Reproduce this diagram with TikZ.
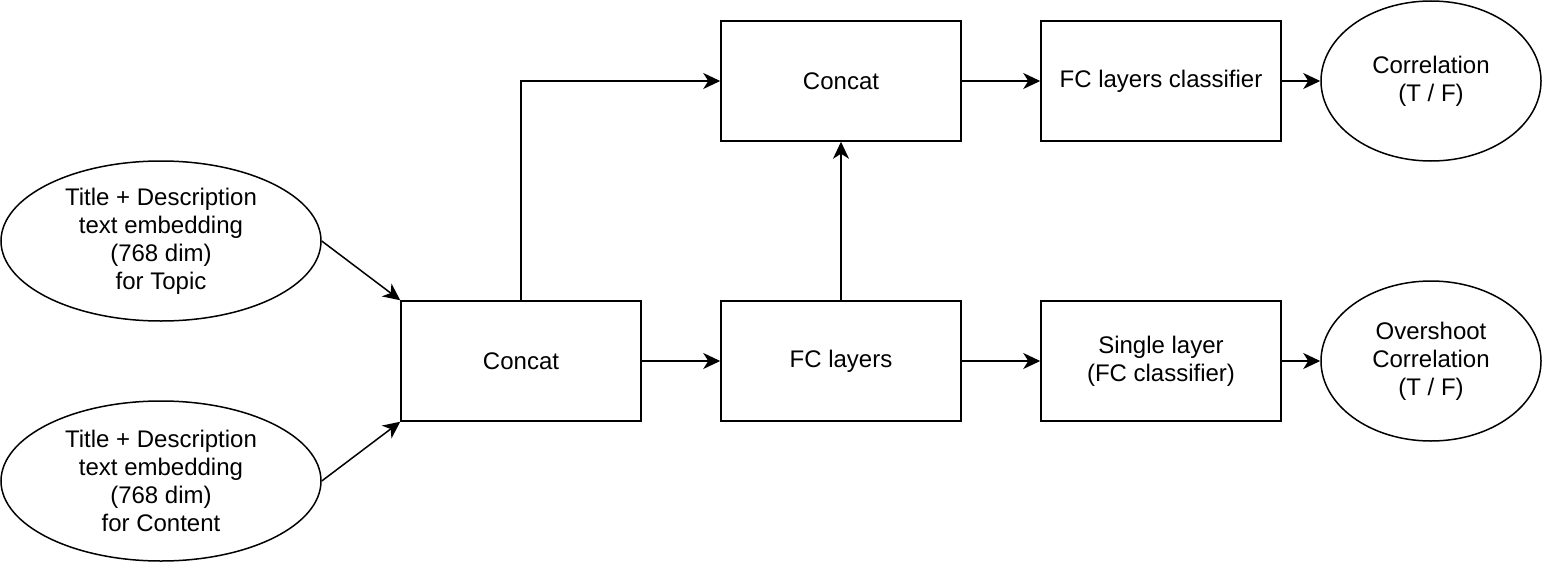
\documentclass[tikz,border=0pt]{standalone}
\usepackage{fontspec}
\setmainfont{Liberation Sans}
\usetikzlibrary{shapes.geometric, positioning, arrows.meta}

\tikzset{
    blockbox/.style={rectangle, draw, line width=1.5pt, minimum width=240pt, minimum height=120pt, align=center},
    oval/.style={ellipse, draw, line width=1.5pt, minimum width=320pt, minimum height=160pt, inner sep=0pt, align=center},
    smalloval/.style={oval, minimum width=220pt},
    flow/.style={line width=1.5pt, -{Stealth[length=17pt, width=16pt, inset=5pt]}}
}

\begin{document}
\begin{tikzpicture}[x=1pt, y=-1pt, font=\fontsize{24}{28}\selectfont]
        \useasboundingbox (0, 0) rectangle (1542, 562);

        \node[oval] (topic) at (161, 241) {Title + Description\\text embedding\\(768 dim)\\for Topic};
        \node[oval] (content) at (161, 481) {Title + Description\\text embedding\\(768 dim)\\for Content};

        \node[blockbox] (concat1) at (521, 361) {Concat};
        \node[blockbox] (fc) at (841, 361) {FC layers};
        \node[blockbox] (concat2) at (841, 81) {Concat};
        \node[blockbox] (fcclf) at (1161, 81) {FC layers classifier};
        \node[blockbox] (single) at (1161, 361) {Single layer\\(FC classifier)};

        \node[smalloval] (corr) at (1431, 81) {Correlation\\(T / F)};
        \node[smalloval] (over) at (1431, 361) {Overshoot\\Correlation\\(T / F)};

        \draw[flow] (topic.east) -- (concat1.north west);
        \draw[flow] (content.east) -- (concat1.south west);
        \draw[flow] (concat1.north) |- (concat2.west);
        \draw[flow] (concat1) -- (fc);
        \draw[flow] (fc) -- (concat2);
        \draw[flow] (concat2) -- (fcclf);
        \draw[flow] (fcclf) -- (corr);
        \draw[flow] (fc) -- (single);
        \draw[flow] (single) -- (over);
    \end{tikzpicture}
\end{document}
